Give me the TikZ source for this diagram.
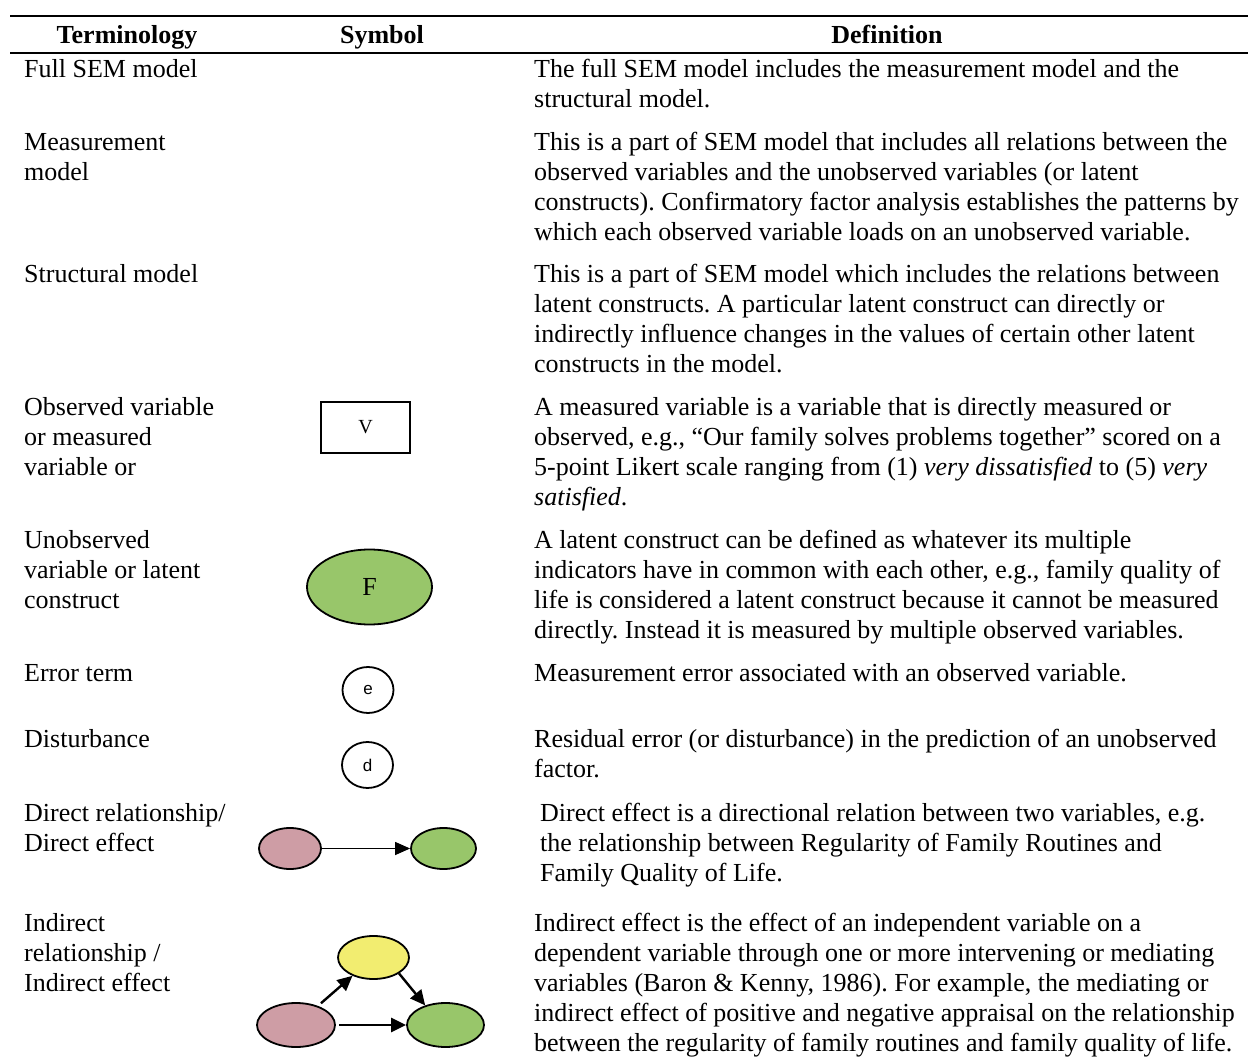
\documentclass[tikz,border=0pt]{standalone}
\usepackage{fontspec}
\setmainfont{Liberation Serif}
\newfontfamily\arialfont{Liberation Sans}
\usetikzlibrary{arrows.meta,shapes.geometric}
\frenchspacing

% stacked lines of text whose baseline is that of the first line
\newcommand\textlines[1]{\vtop{\baselineskip=30pt\lineskiplimit=-20pt\lineskip=0pt\halign{##\hfil\cr#1\crcr}}}

\definecolor{fgreen}{RGB}{152,198,106}
\definecolor{fpink}{RGB}{206,157,165}
\definecolor{fyellow}{RGB}{242,237,112}

\begin{document}
\begin{tikzpicture}[x=1pt,y=-1pt,
  txt/.style={font=\fontsize{26}{30}\selectfont, inner sep=0pt, anchor=base west},
  hdr/.style={font=\fontsize{26}{30}\selectfont\bfseries, inner sep=0pt, anchor=base},
  rule/.style={line width=2pt},
  shp/.style={draw, line width=1.8pt, inner sep=0pt},
  oval/.style={shp, ellipse},
  arr/.style={-{Triangle[length=15pt,width=13pt]}, line width=1.3pt},
  arrb/.style={-{Triangle[length=15pt,width=14pt]}, line width=2.4pt},
]
\useasboundingbox (0,0) rectangle (1248,1064);

% rules of the table
\draw[rule] (10,15.7) -- (1248,15.7);
\draw[rule] (10,53.3) -- (1248,53.3);

% header
\node[hdr] (h1) at (127,44) {Terminology};
\node[hdr] (h2) at (382,44) {Symbol};
\node[hdr] (h3) at (887,44) {Definition};

% terminology column
\node[txt] (t1) at (24,78)  {\textlines{Full SEM model}};
\node[txt] (t2) at (24,151) {\textlines{Measurement\cr model}};
\node[txt] (t3) at (24,283) {\textlines{Structural model}};
\node[txt] (t4) at (24,416) {\textlines{Observed variable\cr or measured\cr variable or}};
\node[txt] (t5) at (24,548) {\textlines{Unobserved\cr variable or latent\cr construct}};
\node[txt] (t6) at (24,681) {\textlines{Error term}};
\node[txt] (t7) at (24,747) {\textlines{Disturbance}};
\node[txt] (t8) at (24,821) {\textlines{Direct relationship/\cr Direct effect}};
\node[txt] (t9) at (24,931) {\textlines{Indirect\cr relationship /\cr Indirect effect}};

% definition column
\node[txt] (d1) at (534,78) {\textlines{The full SEM model includes the measurement model and the\cr structural model.}};
\node[txt] (d2) at (534,151) {\textlines{This is a part of SEM model that includes all relations between the\cr observed variables and the unobserved variables (or latent\cr constructs). Confirmatory factor analysis establishes the patterns by\cr which each observed variable loads on an unobserved variable.}};
\node[txt] (d3) at (534,283) {\textlines{This is a part of SEM model which includes the relations between\cr latent constructs. A particular latent construct can directly or\cr indirectly influence changes in the values of certain other latent\cr constructs in the model.}};
\node[txt] (d4) at (534,416) {\textlines{A measured variable is a variable that is directly measured or\cr observed, e.g., “Our family solves problems together” scored on a\cr 5-point Likert scale ranging from (1) \textit{very dissatisfied} to (5) \textit{very}\cr \textit{satisfied}.}};
\node[txt] (d5) at (534,548) {\textlines{A latent construct can be defined as whatever its multiple\cr indicators have in common with each other, e.g., family quality of\cr life is considered a latent construct because it cannot be measured\cr directly. Instead it is measured by multiple observed variables.}};
\node[txt] (d6) at (534,681) {\textlines{Measurement error associated with an observed variable.}};
\node[txt] (d7) at (534,747) {\textlines{Residual error (or disturbance) in the prediction of an unobserved\cr factor.}};
\node[txt] (d8) at (540,821) {\textlines{Direct effect is a directional relation between two variables, e.g.\cr the relationship between Regularity of Family Routines and\cr Family Quality of Life.}};
\node[txt] (d9) at (534,931) {\textlines{Indirect effect is the effect of an independent variable on a\cr dependent variable through one or more intervening or mediating\cr variables (Baron \& Kenny, 1986). For example, the mediating or\cr indirect effect of positive and negative appraisal on the relationship\cr between the regularity of family routines and family quality of life.}};

% symbols
\node[shp, minimum width=89pt, minimum height=51pt, font=\fontsize{20}{20}\selectfont] (obs) at (365.5,427.5) {V};
\node[oval, fill=fgreen, minimum width=125pt, minimum height=75pt, font=\fontsize{26}{26}\selectfont] (lat) at (369.5,587) {F};
\node[oval, minimum width=51pt, minimum height=46pt, font=\arialfont\fontsize{17}{17}\selectfont] (err) at (368,690) {e};
\node[oval, minimum width=51pt, minimum height=46pt, font=\arialfont\fontsize{17}{17}\selectfont] (dist) at (367.5,765) {d};

% direct effect
\node[oval, fill=fpink, minimum width=62pt, minimum height=41pt] (dx) at (290,848.5) {};
\node[oval, fill=fgreen, minimum width=65pt, minimum height=41pt] (dy) at (443.5,848.5) {};
\draw[arr] (dx) -- (dy);

% indirect effect
\node[oval, fill=fyellow, minimum width=71pt, minimum height=43pt] (im) at (373.5,957.5) {};
\node[oval, fill=fpink, minimum width=78pt, minimum height=44pt] (ix) at (296,1025) {};
\node[oval, fill=fgreen, minimum width=77pt, minimum height=44pt] (iy) at (445.5,1025) {};
\draw[arrb, shorten <=4pt] (ix) -- (im);
\draw[arrb] (im.-32) -- (iy.136);
\draw[arrb, shorten <=3pt] (ix) -- (iy);
\end{tikzpicture}
\end{document}
